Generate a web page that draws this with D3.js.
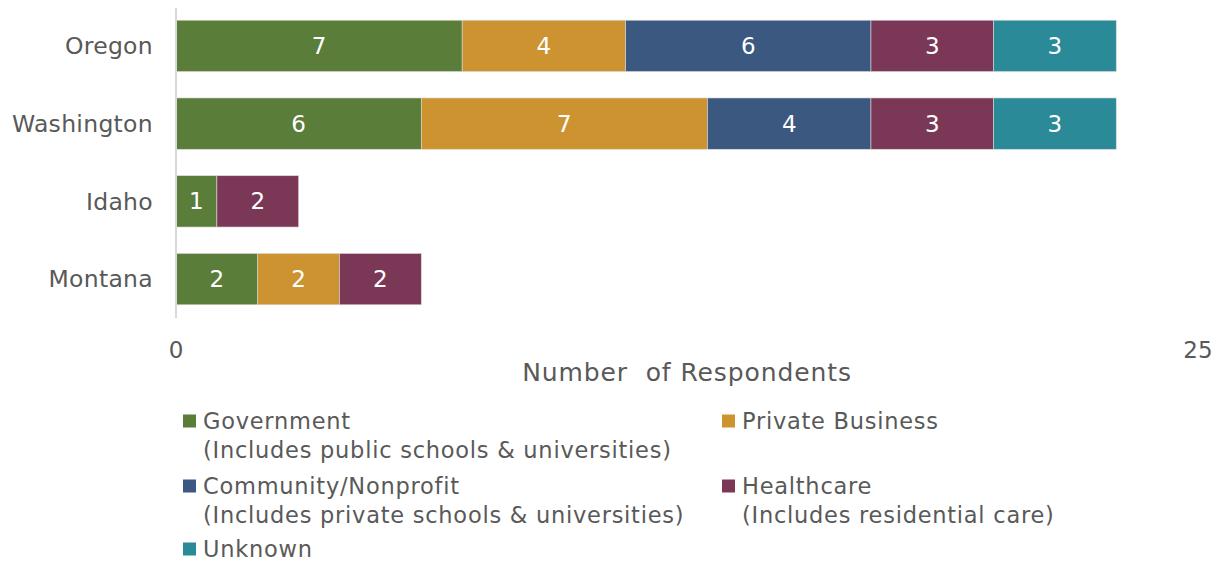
<!DOCTYPE html>
<html>
<head>
<meta charset="utf-8">
<script src="https://cdn.jsdelivr.net/npm/d3@7"></script>
<style>
  html, body { margin: 0; padding: 0; background: #fff; }
  svg { display: block; font-family: "DejaVu Sans", Verdana, sans-serif; }
</style>
</head>
<body>
<svg id="chart" width="1217" height="561"></svg>
<script>
// Respondents by state and employer sector
const states = ["Oregon", "Washington", "Idaho", "Montana"];
const sectorNames = ["Government", "Private Business", "Community/Nonprofit", "Healthcare", "Unknown"];
const sectorNotes = [
  "(Includes public schools & universities)",
  "",
  "(Includes private schools & universities)",
  "(Includes residential care)",
  ""
];
const sectorColors = ["#5a7d3a", "#cd9331", "#3a5880", "#7b3856", "#2b8a97"];
const government = [7, 6, 1, 2];
const privateBusiness = [4, 7, 0, 2];
const community = [6, 4, 0, 0];
const healthcare = [3, 3, 2, 2];
const unknown = [3, 3, 0, 0];
const axisTicks = [0, 25];
const axisTitle = "Number\u00a0\u00a0of Respondents";

const seriesValues = [government, privateBusiness, community, healthcare, unknown];
const rows = states.map((s, i) => {
  const r = { state: s };
  sectorNames.forEach((k, j) => { r[k] = seriesValues[j][i]; });
  return r;
});

const svg = d3.select("#chart");
const textColor = "#595959";

const x = d3.scaleLinear().domain([0, 25]).range([176, 1198]);
const y = d3.scaleBand().domain(states).range([7, 318]).paddingInner(0.34).paddingOuter(0.17);

const stack = d3.stack().keys(sectorNames);
const layers = stack(rows);

// Stacked bars
const g = svg.append("g");
layers.forEach((layer, li) => {
  const lg = g.append("g");
  layer.forEach(d => {
    const v = d[1] - d[0];
    if (v <= 0) return;
    const x0 = x(d[0]), x1 = x(d[1]);
    const yy = y(d.data.state);
    lg.append("rect")
      .attr("x", x0).attr("y", yy)
      .attr("width", x1 - x0).attr("height", y.bandwidth())
      .attr("fill", sectorColors[li])
      .attr("stroke", "#d9d9d9").attr("stroke-width", 0.6);
    lg.append("text")
      .attr("x", (x0 + x1) / 2)
      .attr("y", yy + y.bandwidth() / 2)
      .attr("dy", "0.35em")
      .attr("text-anchor", "middle")
      .attr("fill", "#ffffff")
      .attr("font-size", 23)
      .text(v);
  });
});

// Category axis line
svg.append("line")
  .attr("x1", x(0)).attr("x2", x(0))
  .attr("y1", 8).attr("y2", 318)
  .attr("stroke", "#d9d9d9").attr("stroke-width", 2);

// State labels
svg.append("g").selectAll("text").data(states).join("text")
  .attr("x", 153)
  .attr("y", d => y(d) + y.bandwidth() / 2)
  .attr("dy", "0.35em")
  .attr("text-anchor", "end")
  .attr("fill", textColor)
  .attr("font-size", 23.5)
  .attr("letter-spacing", 0.3)
  .text(d => d);

// Value axis tick labels
svg.append("g").selectAll("text").data(axisTicks).join("text")
  .attr("x", d => x(d))
  .attr("y", 350)
  .attr("dy", "0.35em")
  .attr("text-anchor", "middle")
  .attr("fill", textColor)
  .attr("font-size", 23)
  .text(d => d);

svg.append("text")
  .attr("x", 687).attr("y", 372)
  .attr("dy", "0.35em")
  .attr("text-anchor", "middle")
  .attr("fill", textColor)
  .attr("font-size", 25)
  .attr("letter-spacing", 0.9)
  .text(axisTitle);

// Legend
const legendPos = [
  { x: 183, y: 421 },
  { x: 722, y: 421 },
  { x: 183, y: 486 },
  { x: 722, y: 486 },
  { x: 183, y: 549 }
];
const lgd = svg.append("g");
sectorNames.forEach((name, i) => {
  const p = legendPos[i];
  lgd.append("rect")
    .attr("x", p.x).attr("y", p.y - 6.5)
    .attr("width", 13).attr("height", 13)
    .attr("fill", sectorColors[i]);
  const t = lgd.append("text")
    .attr("x", p.x + 20).attr("y", p.y)
    .attr("dy", "0.35em")
    .attr("fill", textColor)
    .attr("font-size", 22.5)
    .attr("letter-spacing", 0.75);
  t.append("tspan").text(name);
  if (sectorNotes[i]) {
    t.append("tspan").attr("x", p.x + 20).attr("dy", 29).text(sectorNotes[i]);
  }
});
</script>
</body>
</html>
